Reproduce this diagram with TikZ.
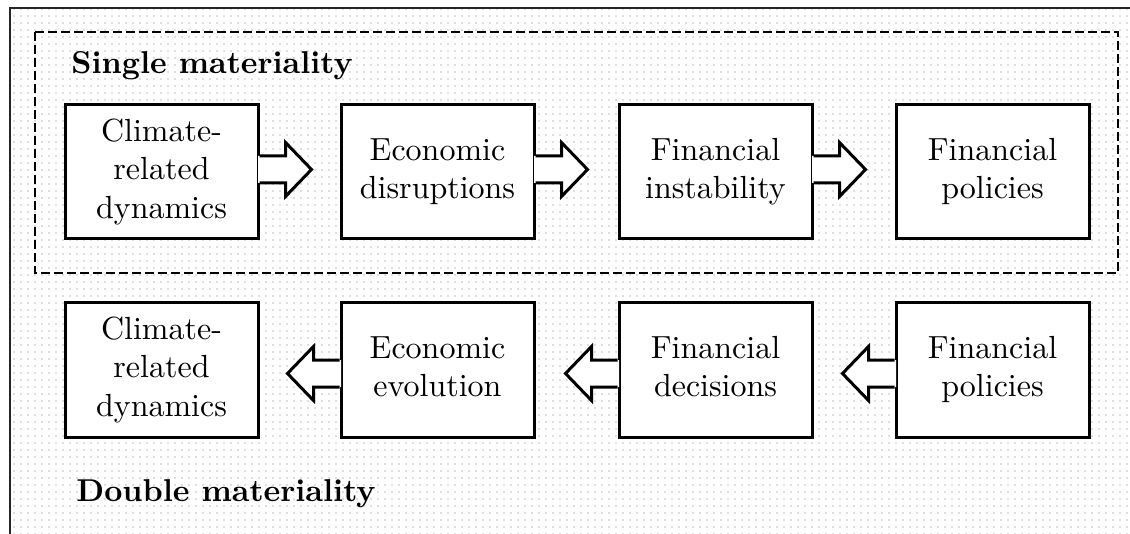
\documentclass[tikz,border=0pt]{standalone}
\usetikzlibrary{calc,patterns.meta}
\newcommand\bt[1]{\scalebox{1.6}{\fontsize{10}{12}\selectfont\begin{tabular}{@{}c@{}}#1\end{tabular}}}
\newcommand\ttl[1]{\scalebox{1.58}{\fontsize{10}{12}\selectfont\bfseries #1}}
\tikzset{
  box/.style={draw, fill=white, line width=1.5pt, minimum width=96.5pt, minimum height=67pt,
    inner sep=0pt, align=center},
  arrowline/.style={line width=1.5pt, line join=miter},
  title/.style={anchor=base west, inner sep=0pt},
  frame/.style={draw=black!85, line width=1pt},
  group/.style={draw=black, line width=1pt, dash pattern=on 4.5pt off 2pt},
}
\newcommand\rarrow[2]{%
  \fill[white] ($(#1.east)+(-1.5,#2-13.5)$) -- ++(27.5,0) -- ++(0,-13.5) -- ++(26,27) -- ++(-26,27) -- ++(0,-13.5) -- ++(-27.5,0) -- cycle;
  \draw[arrowline] ($(#1.east)+(0,#2-13.5)$) -- ++(26,0) -- ++(0,-13.5) -- ++(26,27) -- ++(-26,27) -- ++(0,-13.5) -- ++(-26,0);
}
\newcommand\larrow[2]{%
  \fill[white] ($(#1.west)+(1.5,#2-13.5)$) -- ++(-27.5,0) -- ++(0,-13.5) -- ++(-26,27) -- ++(26,27) -- ++(0,-13.5) -- ++(27.5,0) -- cycle;
  \draw[arrowline] ($(#1.west)+(0,#2-13.5)$) -- ++(-26,0) -- ++(0,-13.5) -- ++(-26,27) -- ++(26,27) -- ++(0,-13.5) -- ++(26,0);
}
\begin{document}
\begin{tikzpicture}[x=0.5pt,y=-0.5pt]
\useasboundingbox (0,0) rectangle (1130,534);
\clip (0,0) rectangle (1130,534);
\fill[white] (0,0) rectangle (1130,534);
\fill[pattern={Dots[distance=3.5pt,radius=0.4pt]}, pattern color=black!25] (10,8) rectangle (1140,544);
\draw[frame] (10,8) rectangle (1140,544);
\draw[group] (35,32) rectangle (1118,273);

\node[title] (single) at (71,74) {\ttl{Single materiality}};
\node[title] (double) at (76,501) {\ttl{Double materiality}};

\node[box] (t1) at (161.5,172) {\bt{Climate-\\related\\dynamics}};
\node[box] (t2) at (437.5,172) {\bt{Economic\\disruptions}};
\node[box] (t3) at (715.5,172) {\bt{Financial\\instability}};
\node[box] (t4) at (992.5,172) {\bt{Financial\\policies}};

\node[box] (b1) at (161.5,370) {\bt{Climate-\\related\\dynamics}};
\node[box] (b2) at (437.5,370) {\bt{Economic\\evolution}};
\node[box] (b3) at (715.5,370) {\bt{Financial\\decisions}};
\node[box] (b4) at (992.5,370) {\bt{Financial\\policies}};

\rarrow{t1}{-2.5}
\rarrow{t2}{-2.5}
\rarrow{t3}{-2.5}
\larrow{b2}{3.5}
\larrow{b3}{3.5}
\larrow{b4}{3.5}
\end{tikzpicture}
\end{document}
